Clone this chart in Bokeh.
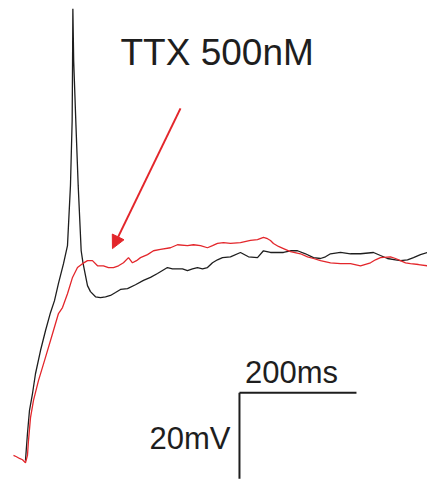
from bokeh.plotting import figure
from bokeh.models import Range1d, Arrow, NormalHead
from bokeh.core.properties import value
from bokeh.embed import file_html
from bokeh.resources import INLINE

# Control trace (black) - time in ms, membrane potential in mV
ctrl_t = [1.7, 5.1, 8.5, 13.7, 18.8, 27.4, 35.9, 44.4, 51.3, 58.1,
          66.7, 73.5, 78.6, 81.5, 82.2, 82.7, 84.1, 88.0, 91.8, 96.9,
          100.0, 104.3, 107.7, 112.8, 121.4, 129.9, 138.5, 147.0,
          155.6, 164.1, 176.1, 189.7, 203.4, 215.4, 227.4, 235.9, 244.4, 253.0,
          261.5, 270.1, 278.6, 287.2, 295.7, 304.3, 312.8, 321.4, 329.9, 338.5,
          352.1, 369.2, 382.9, 398.3, 408.5, 420.5, 442.7, 454.7, 466.7, 480.3,
          494.0, 506.0, 514.5, 523.1, 540.2, 557.3, 574.4, 596.6, 608.5, 620.5,
          634.2, 642.7, 654.7, 665.0, 676.9, 688.9]
ctrl_v = [-69.3, -63.0, -57.7, -53.7, -49.1, -43.7, -39.1, -34.9, -32.1, -28.1,
          -23.5, -19.3, -5.3, 9.8, 23.7, 35.8, 23.7, 8.6, -5.3, -20.5,
          -23.3, -26.3, -28.6, -30.0, -31.2, -31.4, -31.2, -30.9,
          -30.2, -29.5, -29.3, -28.4, -27.4, -26.7, -25.8, -25.1, -24.4, -24.7,
          -24.7, -24.7, -25.1, -24.7, -24.4, -24.7, -24.4, -23.3, -22.6, -22.1,
          -21.9, -20.9, -21.9, -22.1, -20.5, -20.9, -20.9, -20.5, -20.5, -21.2,
          -22.1, -22.3, -21.9, -21.2, -20.9, -21.2, -21.2, -20.9, -21.6, -22.3,
          -22.6, -22.8, -22.6, -22.1, -21.4, -20.9]

# TTX trace (red)
ttx_t = [-18.8, -13.7, -8.5, -3.4, 1.7, 5.1, 6.8, 10.3, 15.4, 23.9,
         35.9, 47.9, 58.1, 65.0, 73.5, 82.1, 90.6, 99.1, 107.7, 116.2, 124.8,
         135.0, 143.6, 152.1, 160.7, 169.2,
         177.8, 184.6, 191.5, 198.3, 210.3, 220.5, 232.5, 249.6, 261.5, 278.6,
         288.9, 300.9, 312.8, 321.4, 329.9, 340.2, 352.1, 369.2, 386.3, 398.3,
         408.5, 415.4, 420.5, 425.6, 434.2, 442.7, 454.7, 471.8, 483.8, 494.0,
         506.0, 523.1, 540.2, 557.3, 574.4, 591.5, 600.0, 608.5, 625.6, 634.2,
         642.7, 651.3, 659.8, 673.5, 688.9]
ttx_v = [-68.1, -68.4, -68.8, -69.1, -69.8, -68.1, -64.7, -59.3, -55.3, -50.7,
         -45.3, -39.8, -35.1, -33.7, -30.5, -26.7, -24.4, -23.5, -22.8, -22.8, -24.0,
         -24.0, -24.4, -24.4, -24.0, -23.3,
         -22.1, -23.3, -22.8, -22.1, -21.4, -20.5, -20.2, -19.8, -19.1, -19.3,
         -19.1, -19.3, -19.8, -19.3, -18.8, -18.6, -18.8, -18.6, -18.1, -17.9,
         -17.4, -17.7, -18.1, -18.8, -19.5, -20.0, -20.7, -21.2, -21.9, -22.3,
         -22.8, -23.3, -23.5, -23.5, -24.0, -23.3, -22.6, -22.1, -21.9, -22.3,
         -22.8, -23.3, -23.5, -23.7, -24.0]

# Scale bar and annotation values
bar_t0, bar_v0 = 367.5, -53.5
bar_dt, bar_dv = 200, 20
title_label = "TTX 500nM"
time_label = "200ms"
volt_label = "20mV"
arrow_start = (266.7, 12.6)
arrow_end = (150.4, -20.0)

RED = "#e3262b"
BLACK = "#1e1e1e"
FONT = value("Liberation Sans")

W, H = 427, 481
p = figure(width=W, height=H, output_backend="svg", toolbar_location=None,
           x_range=Range1d(-41.0, -41.0 + W / 0.585),
           y_range=Range1d(37.7 - H / 4.3, 37.7),
           min_border=0, min_border_left=0, min_border_right=0,
           min_border_top=0, min_border_bottom=0)
p.axis.visible = False
p.xgrid.visible = False
p.ygrid.visible = False
p.outline_line_color = None
p.background_fill_color = "white"
p.border_fill_color = "white"

p.line(ctrl_t, ctrl_v, line_color=BLACK, line_width=1.3)
p.line(ttx_t, ttx_v, line_color=RED, line_width=1.3)

# scale bar
p.line([bar_t0, bar_t0 + bar_dt], [bar_v0, bar_v0], line_color=BLACK, line_width=2)
p.line([bar_t0, bar_t0], [bar_v0, bar_v0 - bar_dv], line_color=BLACK, line_width=2)

p.text(x=[bar_t0 + 9.5], y=[bar_v0 + 4.6], text=[time_label],
       text_font_size="31px", text_font=FONT, text_color=BLACK,
       text_baseline="alphabetic", text_align="left")
p.text(x=[bar_t0 - 15.4], y=[bar_v0 - 10.7], text=[volt_label],
       text_font_size="31px", text_font=FONT, text_color=BLACK,
       text_baseline="alphabetic", text_align="right")
p.text(x=[164.1], y=[25.6], text=[title_label],
       text_font_size="37px", text_font=FONT, text_color=BLACK,
       text_baseline="alphabetic", text_align="left")

p.add_layout(Arrow(end=NormalHead(size=13, fill_color=RED, line_color=RED),
                   x_start=arrow_start[0], y_start=arrow_start[1],
                   x_end=arrow_end[0], y_end=arrow_end[1],
                   line_color=RED, line_width=2))

open("out.html", "w").write(file_html(p, INLINE))
